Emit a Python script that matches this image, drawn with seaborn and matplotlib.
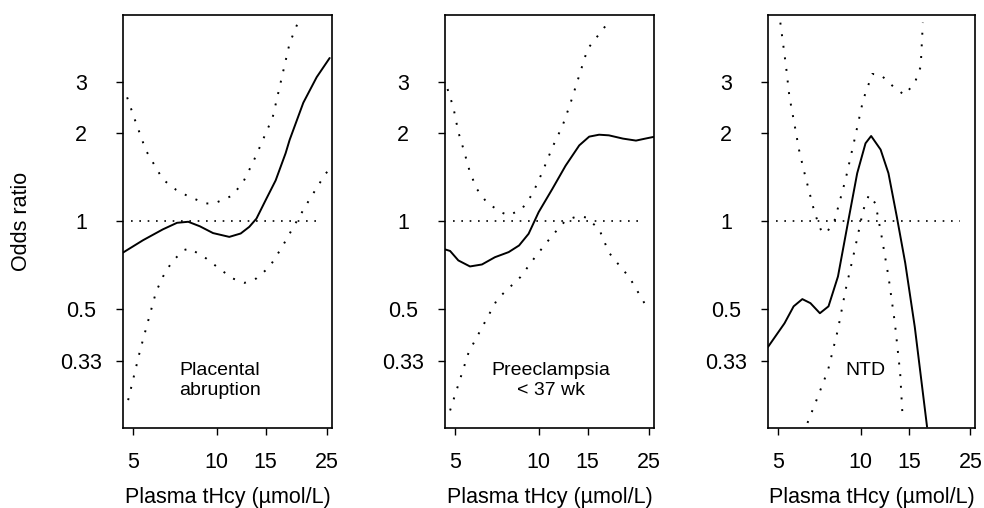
import numpy as np
import pandas as pd
import matplotlib
matplotlib.use("Agg")
import matplotlib.pyplot as plt
import seaborn as sns

# panel titles
labels = ["Placental\nabruption", "Preeclampsia\n< 37 wk", "NTD"]

# Placental abruption: estimate + upper/lower limits (tHcy, odds ratio)
pa_x = [4.6, 5.43, 6.4, 7.2, 7.9, 8.7, 9.7, 11.1, 12.2, 13.1, 13.9, 15.0, 16.3, 17.7,
        18.3, 20.5, 22.9, 25.5]
pa_or = [0.78, 0.86, 0.937, 0.987, 0.995, 0.96, 0.91, 0.883, 0.907, 0.956, 1.02, 1.18,
         1.38, 1.71, 1.9, 2.55, 3.12, 3.63]
pa_up_x = [4.76, 5.1, 5.56, 6.4, 7.15, 7.99, 9.16, 9.8, 11.3, 12.4, 13.5, 13.9, 15.9, 18.3, 19.9]
pa_up = [2.66, 2.2, 1.75, 1.39, 1.28, 1.21, 1.15, 1.15, 1.22, 1.35, 1.59, 1.69, 2.27, 4.08, 4.98]
pa_lo_x = [4.8, 5.3, 6.05, 6.4, 6.9, 7.6, 8.0, 9.16, 10.2, 11.4, 12.6, 13.9, 15.5, 17.2,
           19.2, 21.5, 24.7, 25.5]
pa_lo = [0.243, 0.36, 0.572, 0.644, 0.725, 0.795, 0.806, 0.745, 0.688, 0.636, 0.614, 0.636,
         0.697, 0.816, 0.982, 1.18, 1.46, 1.5]

# Preeclampsia < 37 wk
pe_x = [4.6, 4.8, 5.14, 5.66, 6.25, 6.96, 7.8, 8.5, 9.2, 10.0, 11.2, 12.5, 14.0, 15.2,
        16.5, 17.9, 20.1, 22.4, 24.2, 26.2]
pe_or = [0.80, 0.79, 0.733, 0.699, 0.71, 0.752, 0.783, 0.825, 0.905, 1.074, 1.29, 1.55,
         1.82, 1.95, 1.98, 1.97, 1.92, 1.89, 1.92, 1.95]
pe_up_x = [4.7, 4.93, 5.14, 5.36, 5.66, 5.99, 6.5, 7.3, 7.8, 8.7, 9.5, 10.3, 11.2, 12.2,
           13.0, 15.0, 18.2]
pe_up = [2.84, 2.46, 2.02, 1.77, 1.47, 1.29, 1.16, 1.074, 1.046, 1.10, 1.24, 1.47, 1.79,
         2.13, 2.53, 3.9, 4.94]
pe_lo_x = [4.8, 5.6, 7.1, 8.6, 9.7, 11.2, 12.5, 13.8, 14.8, 16.5, 17.9, 19.5, 21.2, 25.0]
pe_lo = [0.224, 0.355, 0.54, 0.643, 0.752, 0.893, 1.005, 1.04, 1.03, 0.94, 0.78, 0.705,
         0.642, 0.49]

# NTD
ntd_x = [4.6, 5.28, 5.7, 6.13, 6.56, 7.1, 7.63, 8.26, 8.97, 9.7, 10.4, 10.9, 11.8, 12.6,
         13.5, 14.5, 15.7, 17.4]
ntd_or = [0.37, 0.446, 0.51, 0.54, 0.523, 0.483, 0.51, 0.646, 0.984, 1.46, 1.85, 1.96,
          1.76, 1.46, 1.04, 0.718, 0.434, 0.197]
ntd_up_x = [5.1, 5.35, 5.5, 5.73, 5.96, 6.2, 6.47, 6.8, 7.2, 7.5, 8.04, 8.8, 9.48, 10.2,
            11.0, 11.8, 13.1, 14.4, 15.7, 16.5, 16.8]
ntd_up = [4.8, 3.39, 2.68, 2.17, 1.76, 1.50, 1.28, 1.065, 0.92, 0.91, 1.01, 1.39, 1.90,
          2.61, 3.2, 3.18, 2.9, 2.71, 2.98, 3.39, 4.8]
ntd_lo_x = [6.4, 6.9, 7.6, 8.25, 8.8, 9.5, 10.2, 10.7, 11.3, 11.9, 12.6, 13.3, 13.9, 14.2]
ntd_lo = [0.203, 0.243, 0.308, 0.423, 0.58, 0.797, 1.09, 1.23, 1.15, 0.886, 0.646, 0.446,
          0.30, 0.208]

# extent of the OR = 1 reference line in each panel
ref_ends = [(4.9, 23.5), (4.9, 23.7), (4.92, 23.0)]

x_ticks = [5, 10, 15, 25]
y_ticks = [0.33, 0.5, 1, 2, 3]
y_ticklabels = ["0.33", "0.5", "1", "2", "3"]

sns.set_style("ticks")
plt.rcParams["font.family"] = ["Liberation Sans", "DejaVu Sans"]
plt.rcParams["text.color"] = "black"
plt.rcParams["xtick.color"] = "black"
plt.rcParams["ytick.color"] = "black"
plt.rcParams["axes.labelcolor"] = "black"

panels = [
    (pa_x, pa_or, pa_up_x, pa_up, pa_lo_x, pa_lo),
    (pe_x, pe_or, pe_up_x, pe_up, pe_lo_x, pe_lo),
    (ntd_x, ntd_or, ntd_up_x, ntd_up, ntd_lo_x, ntd_lo),
]
lefts = [0.125, 0.4522, 0.7805]
widths = [0.2124, 0.2124, 0.2104]
text_pos = [(0.464, 0.115), (0.507, 0.115), (0.469, 0.14)]

fig = plt.figure(figsize=(9.84, 5.08), dpi=100)
dots = (0, (1, 5))
fs = 15.5

for i, (ex, ey, ux, uy, lx, ly) in enumerate(panels):
    ax = fig.add_axes([lefts[i], 0.1575, widths[i], 0.813])
    est = pd.DataFrame({"x": ex, "y": ey})
    up = pd.DataFrame({"x": ux, "y": uy})
    lo = pd.DataFrame({"x": lx, "y": ly})
    sns.lineplot(data=est, x="x", y="y", ax=ax, color="black", lw=1.4,
                 sort=False, estimator=None)
    sns.lineplot(data=up, x="x", y="y", ax=ax, color="black", lw=1.4,
                 linestyle=dots, sort=False, estimator=None)
    sns.lineplot(data=lo, x="x", y="y", ax=ax, color="black", lw=1.4,
                 linestyle=dots, sort=False, estimator=None)
    ax.plot(list(ref_ends[i]), [1, 1], color="black", lw=1.2, linestyle=(0, (1, 4)))

    ax.set_xscale("log")
    ax.set_yscale("log")
    ax.set_xlim(4.6, 26)
    ax.set_ylim(0.195, 5.1)
    ax.minorticks_off()
    ax.set_xticks(x_ticks)
    ax.set_xticklabels([str(t) for t in x_ticks])
    ax.set_yticks(y_ticks)
    ax.set_yticklabels(y_ticklabels)
    ax.tick_params(axis="x", length=5, width=1, pad=12, labelsize=fs)
    ax.tick_params(axis="y", length=5, width=1, pad=25, labelsize=fs)
    for lab in ax.get_yticklabels():
        lab.set_horizontalalignment("center")
    for s in ax.spines.values():
        s.set_linewidth(1.2)
        s.set_color("black")
    ax.set_xlabel("Plasma tHcy (µmol/L)", fontsize=fs)
    ax.xaxis.set_label_coords(0.5, -0.143)
    if i == 0:
        ax.set_ylabel("Odds ratio", fontsize=fs)
        ax.yaxis.set_label_coords(-0.435, 0.5)
    else:
        ax.set_ylabel("")
    ax.text(text_pos[i][0], text_pos[i][1], labels[i], transform=ax.transAxes,
            ha="center", va="center", fontsize=14, linespacing=1.2)

fig.savefig("out.png", dpi=100)
